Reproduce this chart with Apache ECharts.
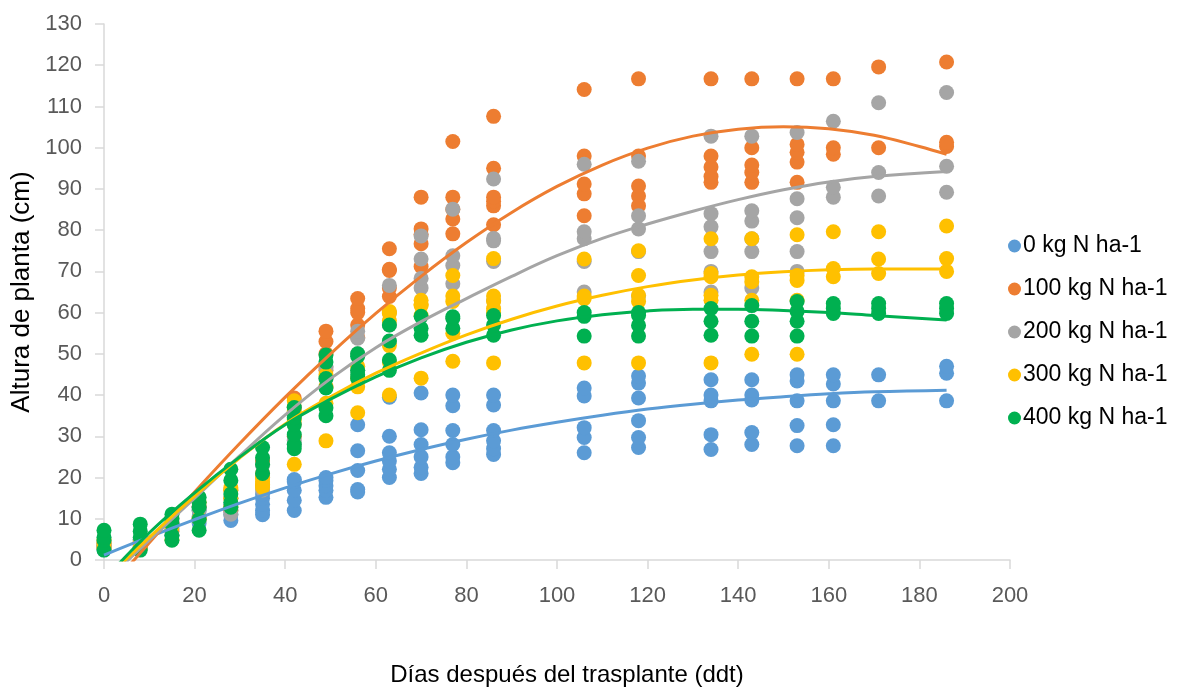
<!DOCTYPE html>
<html>
<head>
<meta charset="utf-8">
<script src="https://cdn.jsdelivr.net/npm/echarts@6/dist/echarts.min.js"></script>
<style>
html,body{margin:0;padding:0;background:#fff;}
#chart{width:1180px;height:692px;}
</style>
</head>
<body>
<div id="chart"></div>
<script>
// ---- data ----
const days = [0, 8, 15, 21, 28, 35, 42, 49, 56, 63, 70, 77, 86, 106, 118, 134, 143, 153, 161, 171, 186];
const seriesNames = ['0 kg N ha-1', '100 kg N ha-1', '200 kg N ha-1', '300 kg N ha-1', '400 kg N ha-1'];
const xTicks = [0, 20, 40, 60, 80, 100, 120, 140, 160, 180, 200];
const yTicks = [0, 10, 20, 30, 40, 50, 60, 70, 80, 90, 100, 110, 120, 130];

// plant height (cm) observed at each day, one list per day
const n0 = [
  [2.5, 3, 3.5], [3, 4, 5], [6, 7.5, 9], [9, 10.5, 12, 13], [9.6, 11, 12, 13.5],
  [11, 12, 13.5, 15, 16], [12, 14.5, 16.9, 19, 19.5], [15.2, 16.9, 18, 19.3, 20],
  [16.5, 17.1, 21.7, 26.5, 32.8], [20, 22, 24, 26, 30, 39.5], [21, 22.5, 25, 28, 31.6, 40.5],
  [23.6, 25, 28, 31.4, 37.4, 40], [25.6, 27, 28.9, 31.4, 37.6, 40], [26, 29.7, 32.1, 39.8, 41.7],
  [27.3, 29.7, 33.8, 39.3, 42.9, 44.6], [26.8, 30.4, 38.6, 40, 43.7], [28, 30.9, 38.8, 40, 43.7],
  [27.7, 32.6, 38.6, 43.4, 44.9], [27.7, 32.8, 38.6, 42.7, 44.9], [38.6, 44.9], [38.6, 45.3, 47]
];
const n100 = [
  [3, 4], [3, 4.5], [7, 9], [10, 13], [12, 15, 17], [18, 21, 24], [30, 33, 37, 39.3],
  [46, 50, 53, 55.5], [54, 57, 60, 61, 63.4], [63.9, 66, 70.2, 70.5, 75.5], [71.2, 76.7, 79, 80.3, 88],
  [79.1, 82.7, 85, 88, 101.5], [81.3, 85.9, 87, 88, 95, 107.6], [83.5, 88.8, 91.2, 98, 114.1],
  [85.9, 88.3, 90.7, 98, 116.7], [91.6, 93, 95.3, 98, 116.7], [91.6, 94, 95.8, 100, 116.7],
  [91.6, 96.5, 98.9, 100.8, 116.7], [98.4, 100, 116.7], [100, 119.6], [100.3, 101.3, 120.8]
];
const n200 = [
  [3, 4], [3.5, 5], [6, 9, 10], [10, 12], [11.1, 13, 15], [17, 20, 23], [28, 29, 35, 37],
  [42, 44, 46.6, 47], [46, 50, 53.8, 55.5], [53, 57, 60, 66.6], [66, 68.3, 73, 78.6],
  [67, 71.4, 73.8, 85.1], [63, 72.4, 77.4, 78, 92.4], [65, 72.4, 77.9, 79.6, 96],
  [64, 74.8, 80.3, 83.5, 96.7], [65, 70, 74.8, 80.8, 84, 102.8], [66, 74.8, 77.9, 82.2, 84.7, 102.8],
  [70, 74.8, 83, 87.6, 103.7], [88, 90.4, 106.4], [88.3, 94, 110.9], [89.2, 95.5, 113.4]
];
const n300 = [
  [3, 4, 5], [3, 4], [5, 8], [10, 14], [13, 15, 16.9, 17.5], [17.6, 18.3, 19, 20],
  [23.2, 34, 36, 38.6], [28.9, 38, 42, 44.9], [35.7, 42, 44.1, 47], [40, 48, 52, 58, 59.8, 60.3],
  [44.1, 59.3, 61.7, 62, 63], [48.2, 55, 62.7, 64, 69], [47.8, 60, 61, 62.7, 64, 73.1],
  [47.8, 63.4, 64, 73], [47.8, 62.7, 64.2, 69, 75], [47.8, 63, 64.2, 68.7, 69.5, 77.9],
  [49.9, 63, 67.5, 68.7, 77.9], [49.9, 63, 67.8, 69, 78.9], [68.7, 70.7, 79.6], [69.5, 73, 79.6], [70, 73.1, 81]
];
const n400 = [
  [2.4, 4.8, 5.5, 7.2], [2.4, 5.5, 7, 8.7], [4.8, 6, 8.7, 10, 11.1], [7.2, 9.9, 12.8, 14, 15.2],
  [12.8, 14, 16, 19.3, 22], [21, 23.2, 24.8, 27.3], [27, 28, 30.4, 32.8, 34.5, 37],
  [35, 36.9, 41.7, 44, 48, 49.7], [44, 44.9, 46, 49.4, 50], [46, 48.5, 53.1, 57],
  [54.5, 56.2, 59.1], [56.2, 58.6, 59], [54.5, 57, 59.3], [54.3, 59.1, 60], [54.3, 56.9, 59.3, 60],
  [54.5, 57.9, 61], [54.3, 57.9, 61.7], [54.3, 57.9, 60.3, 62.7], [59.8, 61, 62.2], [59.8, 61, 62.2], [59.8, 61, 62.2]
];

// trend lines: [day, height]
const trend0 = [[0, 1.2], [10, 5.6], [20, 9.8], [30, 13.8], [40, 17.5], [50, 20.9], [60, 24], [70, 26.8], [80, 29.3], [90, 31.5], [100, 33.4], [110, 35.1], [120, 36.6], [130, 37.8], [140, 38.8], [150, 39.6], [160, 40.3], [170, 40.8], [186, 41.2]];
const trend100 = [[0, -8.3], [10, 4.2], [20, 16.5], [30, 28.3], [40, 39.5], [50, 50], [60, 59.8], [70, 68.8], [80, 77], [90, 84.3], [100, 90.6], [110, 95.8], [120, 99.9], [130, 102.8], [140, 104.5], [150, 105.1], [160, 104.6], [170, 103], [180, 100.3], [186, 98.4]];
const trend200 = [[0, -5.5], [10, 4.8], [20, 15], [30, 25.3], [40, 35.2], [50, 44], [60, 51.5], [70, 57.8], [80, 63.4], [90, 68.8], [100, 73.8], [110, 78], [120, 81.5], [130, 84.6], [140, 87.4], [150, 89.8], [160, 91.7], [170, 93], [186, 94.2]];
const trend300 = [[0, -5], [10, 5.5], [20, 15.5], [30, 24.8], [40, 33], [50, 39.6], [60, 45.3], [70, 50.2], [80, 54.6], [90, 58.4], [100, 61.6], [110, 64.2], [120, 66.3], [130, 67.9], [140, 69.1], [150, 69.9], [160, 70.4], [170, 70.6], [186, 70.6]];
const trend400 = [[0, -4.8], [10, 6.6], [20, 16.3], [30, 25], [40, 32.8], [50, 39], [60, 44.4], [70, 49], [80, 52.8], [90, 55.8], [100, 58], [110, 59.5], [120, 60.4], [130, 60.8], [140, 60.8], [150, 60.5], [160, 60], [170, 59.3], [186, 58.2]];

const colors = ['#5B9BD5', '#ED7D31', '#A5A5A5', '#FFC000', '#00B050'];
const obs = [n0, n100, n200, n300, n400];
const trends = [trend0, trend100, trend200, trend300, trend400];

function toPoints(values) {
  const pts = [];
  values.forEach((list, i) => list.forEach(v => pts.push([days[i], v])));
  return pts;
}

const FONT = "'Liberation Sans', Arial, sans-serif";
const series = [];
obs.forEach((o, i) => {
  series.push({
    name: seriesNames[i],
    type: 'scatter',
    data: toPoints(o),
    symbol: 'circle',
    symbolSize: 15,
    itemStyle: { color: colors[i], opacity: 1 },
    z: 2 + i * 0.01,
    emphasis: { disabled: true }
  });
});
trends.forEach((t, i) => {
  series.push({
    name: 'trend ' + seriesNames[i],
    type: 'line',
    data: t,
    smooth: 0.4,
    showSymbol: false,
    clip: true,
    lineStyle: { color: colors[i], width: 3 },
    itemStyle: { color: colors[i] },
    z: 5,
    emphasis: { disabled: true }
  });
});

const chart = echarts.init(document.getElementById('chart'), null, { renderer: 'canvas' });
chart.setOption({
  animation: false,
  backgroundColor: '#ffffff',
  textStyle: { fontFamily: FONT },
  grid: { left: 104, right: 170, top: 24, bottom: 129, containLabel: false },
  legend: {
    data: seriesNames,
    orient: 'vertical',
    left: 1003,
    top: 229,
    itemWidth: 13,
    itemHeight: 13,
    itemGap: 19,
    icon: 'circle',
    textStyle: { fontFamily: FONT, fontSize: 23, color: '#000', lineHeight: 24, padding: [0, 0, 0, -3] }
  },
  xAxis: {
    type: 'value',
    min: xTicks[0],
    max: xTicks[xTicks.length - 1],
    interval: xTicks[1] - xTicks[0],
    name: 'Días después del trasplante (ddt)',
    nameLocation: 'middle',
    nameGap: 103,
    nameTextStyle: { fontFamily: FONT, fontSize: 24, color: '#000', padding: [0, 0, 0, 20] },
    axisLine: { show: true, onZero: false, lineStyle: { color: '#d9d9d9', width: 1.5 } },
    axisTick: { show: true, inside: false, length: 9, lineStyle: { color: '#d9d9d9', width: 1.5 } },
    axisLabel: { fontFamily: FONT, fontSize: 22, color: '#595959', margin: 25 },
    splitLine: { show: false }
  },
  yAxis: {
    type: 'value',
    min: yTicks[0],
    max: yTicks[yTicks.length - 1],
    interval: yTicks[1] - yTicks[0],
    name: 'Altura de planta (cm)',
    nameLocation: 'middle',
    nameGap: 58,
    nameTextStyle: { fontFamily: FONT, fontSize: 26, color: '#000' },
    axisLine: { show: true, onZero: false, lineStyle: { color: '#d9d9d9', width: 1.5 } },
    axisTick: { show: true, inside: false, length: 9, lineStyle: { color: '#d9d9d9', width: 1.5 } },
    axisLabel: { fontFamily: FONT, fontSize: 22, color: '#595959', margin: 22 },
    splitLine: { show: false }
  },
  series: series
});
</script>
</body>
</html>
